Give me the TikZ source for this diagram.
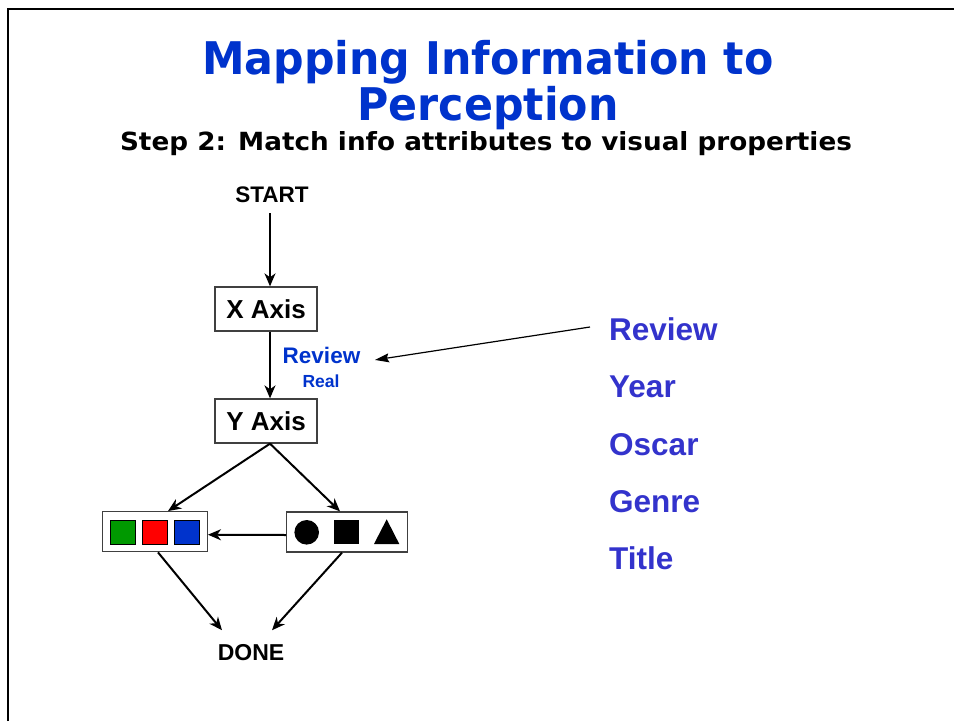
\documentclass[tikz,border=0pt]{standalone}
\usepackage{fontspec}
\setmainfont{Liberation Sans}
\newfontfamily\headfont{DejaVu Sans}[FakeStretch=0.95]
\newfontfamily\subheadfont{DejaVu Sans}[FakeStretch=1.05]
\usetikzlibrary{arrows.meta}
\definecolor{titleblue}{HTML}{0033CC}
\definecolor{listblue}{HTML}{3333CC}
\definecolor{boxgray}{HTML}{404040}
\definecolor{sqgreen}{HTML}{009900}
\definecolor{sqred}{HTML}{FF0000}
\definecolor{sqblue}{HTML}{0033CC}
\begin{document}
\begin{tikzpicture}[x=1pt,y=-1pt,
  titletext/.style={inner sep=0pt, text=titleblue, font=\headfont\bfseries\fontsize{45}{45}\selectfont},
  subtext/.style={inner sep=0pt, font=\subheadfont\bfseries\fontsize{25}{25}\selectfont},
  lbl/.style={inner sep=0pt, font=\bfseries\fontsize{22.5}{22.5}\selectfont},
  axisbox/.style={draw=boxgray, line width=1.3pt, minimum width=102pt, minimum height=44pt,
    inner sep=0pt, font=\bfseries\fontsize{26}{26}\selectfont},
  legendbox/.style={draw=boxgray, line width=1.3pt, minimum height=40pt, inner sep=0pt},
  attr/.style={inner sep=0pt, anchor=base west, text=listblue, font=\bfseries\fontsize{31.5}{31.5}\selectfont},
  flow/.style={line width=2pt, -{Stealth[length=13pt,width=11pt,inset=4pt]}},
  pointer/.style={line width=1.2pt, -{Stealth[length=14pt,width=9pt,inset=2pt]}},
  swatch/.style={draw=black, line width=1pt}]
\useasboundingbox (0,0) rectangle (954,721);

% page frame
\draw[line width=2.5pt] (8,721) -- (8,9) -- (954,9);

% headings
\node[titletext, anchor=base] (t1) at (488,74) {Mapping Information to};
\node[titletext, anchor=base] (t2) at (488,120) {Perception};
\node[subtext, anchor=base] (st) at (486,150) {Step 2: Match info attributes to visual properties};

% flow chart
\node[lbl, anchor=base] (start) at (272,202) {START};
\node[axisbox] (X) at (266,309) {X Axis};
\node[axisbox] (Y) at (266,421) {Y Axis};
\node[inner sep=0pt, anchor=base, text=titleblue, font=\bfseries\fontsize{22.5}{22.5}\selectfont] (rv) at (321.5,363) {Review};
\node[inner sep=0pt, anchor=base, text=titleblue, font=\bfseries\fontsize{17.5}{17.5}\selectfont] (real) at (321,387) {Real};

\node[legendbox, minimum width=104.6pt] (C) at (155,531.7) {};
\filldraw[swatch, fill=sqgreen] (110,520) rectangle (135.3,544);
\filldraw[swatch, fill=sqred] (142.3,520) rectangle (167.3,544);
\filldraw[swatch, fill=sqblue] (174.3,520) rectangle (199.3,544);

\node[legendbox, minimum width=120.6pt] (S) at (347,532) {};
\fill (306.7,532.3) circle (12.3);
\fill (334,519.5) rectangle (359.3,544);
\fill (374,544) -- (386.7,519.3) -- (399.3,544) -- cycle;

\node[lbl, font=\bfseries\fontsize{23}{23}\selectfont, anchor=base] (done) at (251,660) {DONE};

\draw[flow] ([xshift=-2,yshift=-11]start.south) -- ([xshift=4]X.north);
\draw[flow] ([xshift=4]X.south) -- ([xshift=4]Y.north);
\draw[flow] ([xshift=4]Y.south) -- ([xshift=13]C.north);
\draw[flow] ([xshift=4]Y.south) -- ([xshift=-7]S.north);
\draw[flow] ([yshift=-3]S.west) -- ([yshift=-3]C.east);
\draw[flow] ([xshift=3]C.south) -- ([xshift=-29,yshift=13.5]done.north);
\draw[flow] ([xshift=-5]S.south) -- ([xshift=21,yshift=13.5]done.north);

% information attributes
\node[attr] (r1) at (609,340.7) {Review};
\node[attr] (r2) at (609,397.7) {Year};
\node[attr] (r3) at (609,455) {Oscar};
\node[attr] (r4) at (609,512.2) {Genre};
\node[attr] (r5) at (609,569.4) {Title};

\draw[pointer] ([xshift=-19,yshift=13.7]r1.base west) -- ([xshift=14.5,yshift=-5]rv.east);
\end{tikzpicture}
\end{document}
